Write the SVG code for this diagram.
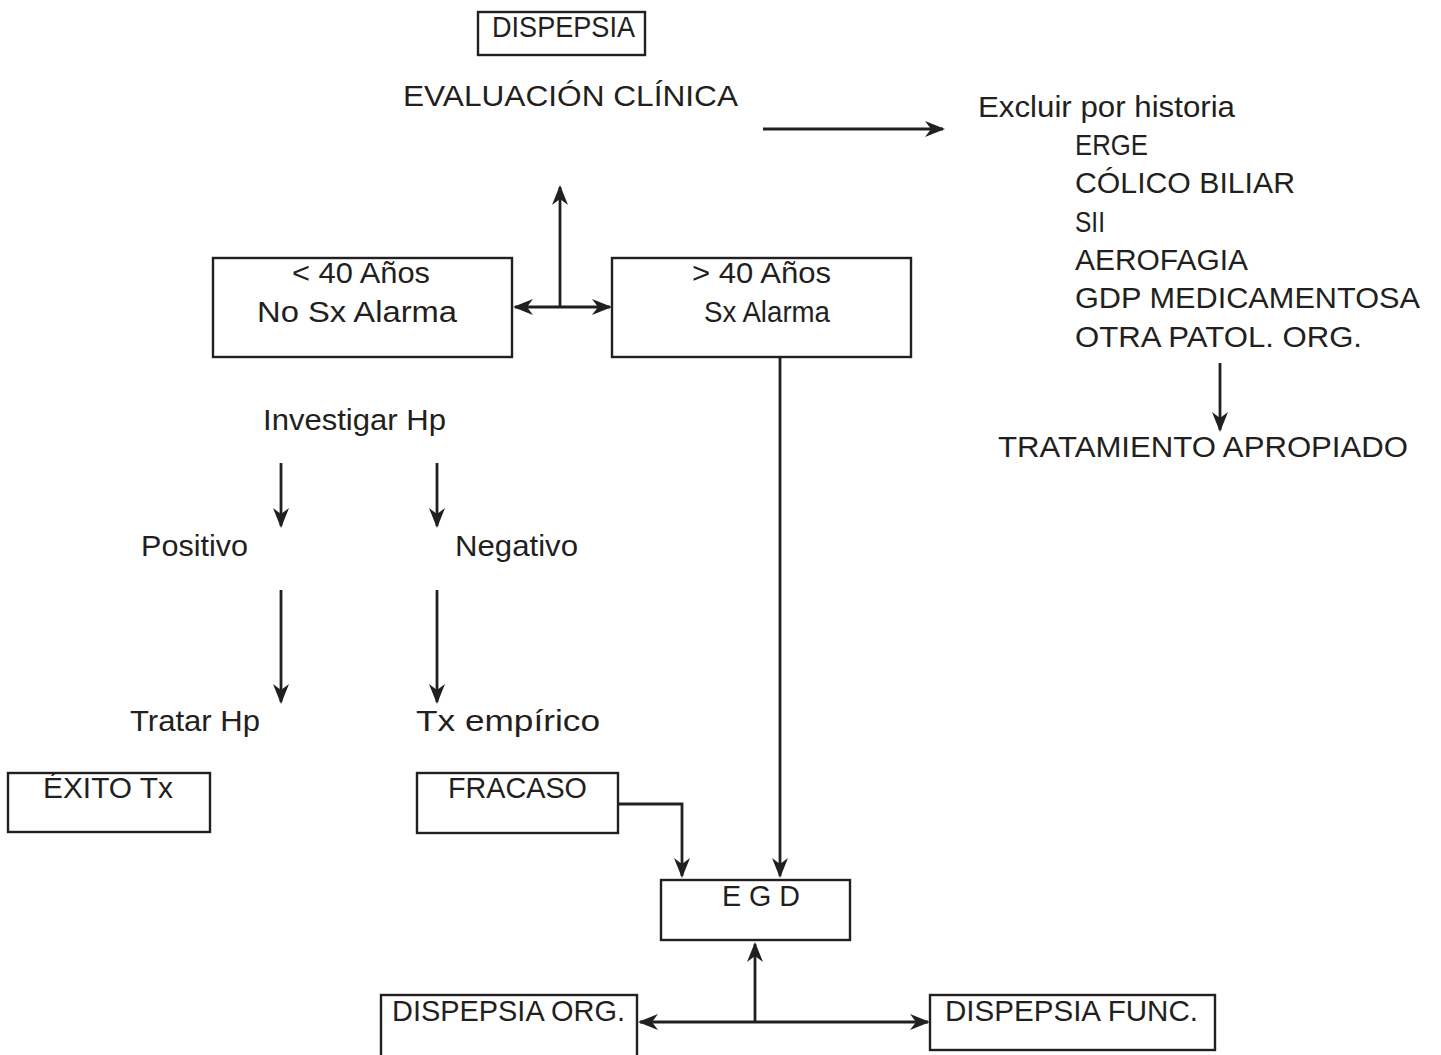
<svg xmlns="http://www.w3.org/2000/svg" width="1441" height="1055" viewBox="0 0 1441 1055">
<style>
.box{fill:#fff;stroke:#231f20;stroke-width:2.4}
.t{font-family:"Liberation Sans",Arial,sans-serif;font-size:30px;fill:#231f20}
.c{stroke:#231f20;stroke-width:2.8;fill:none}
</style>
<defs>
<marker id="ah" viewBox="0 0 20 16" refX="18" refY="8" markerWidth="20" markerHeight="16" markerUnits="userSpaceOnUse" orient="auto-start-reverse">
<path d="M0,0 L20,8 L0,16 L6,8 z" fill="#231f20"/>
</marker>
</defs>
<rect width="1441" height="1055" fill="#fff"/>
<g id="connectors">
<line class="c" x1="763" y1="129" x2="943" y2="129" marker-end="url(#ah)"/>
<line class="c" x1="560" y1="307" x2="560" y2="187" marker-end="url(#ah)"/>
<line class="c" x1="515" y1="307" x2="610" y2="307" marker-start="url(#ah)" marker-end="url(#ah)"/>
<line class="c" x1="1220" y1="363" x2="1220" y2="430" marker-end="url(#ah)"/>
<line class="c" x1="281" y1="463" x2="281" y2="526" marker-end="url(#ah)"/>
<line class="c" x1="437" y1="463" x2="437" y2="526" marker-end="url(#ah)"/>
<line class="c" x1="281" y1="590" x2="281" y2="702" marker-end="url(#ah)"/>
<line class="c" x1="437" y1="590" x2="437" y2="702" marker-end="url(#ah)"/>
<line class="c" x1="780" y1="357" x2="780" y2="876" marker-end="url(#ah)"/>
<polyline class="c" points="618,804 682,804 682,876" marker-end="url(#ah)"/>
<line class="c" x1="755" y1="1022" x2="755" y2="944" marker-end="url(#ah)"/>
<line class="c" x1="640" y1="1022" x2="928" y2="1022" marker-start="url(#ah)" marker-end="url(#ah)"/>
</g>
<g id="dispepsia">
<rect class="box" x="478" y="12" width="167" height="43"/>
<text class="t" x="492" y="37" textLength="143" lengthAdjust="spacingAndGlyphs">DISPEPSIA</text>
</g>
<g id="evaluacion">
<text class="t" x="403" y="106" textLength="335" lengthAdjust="spacingAndGlyphs">EVALUACIÓN CLÍNICA</text>
</g>
<g id="excluir">
<text class="t" x="978" y="117" textLength="257" lengthAdjust="spacingAndGlyphs">Excluir por historia</text>
<text class="t" x="1075" y="155" textLength="73" lengthAdjust="spacingAndGlyphs">ERGE</text>
<text class="t" x="1075" y="193" textLength="220" lengthAdjust="spacingAndGlyphs">CÓLICO BILIAR</text>
<text class="t" x="1075" y="232" textLength="30" lengthAdjust="spacingAndGlyphs">SII</text>
<text class="t" x="1075" y="270" textLength="173" lengthAdjust="spacingAndGlyphs">AEROFAGIA</text>
<text class="t" x="1075" y="308" textLength="345" lengthAdjust="spacingAndGlyphs">GDP MEDICAMENTOSA</text>
<text class="t" x="1075" y="347" textLength="287" lengthAdjust="spacingAndGlyphs">OTRA PATOL. ORG.</text>
</g>
<g id="tratamiento">
<text class="t" x="998" y="457" textLength="410" lengthAdjust="spacingAndGlyphs">TRATAMIENTO APROPIADO</text>
</g>
<g id="menor40">
<rect class="box" x="213" y="258" width="299" height="99"/>
<text class="t" x="292" y="283" textLength="138" lengthAdjust="spacingAndGlyphs">&lt; 40 Años</text>
<text class="t" x="257" y="322" textLength="200" lengthAdjust="spacingAndGlyphs">No Sx Alarma</text>
</g>
<g id="mayor40">
<rect class="box" x="612" y="258" width="299" height="99"/>
<text class="t" x="692" y="283" textLength="139" lengthAdjust="spacingAndGlyphs">&gt; 40 Años</text>
<text class="t" x="704" y="322" textLength="126" lengthAdjust="spacingAndGlyphs">Sx Alarma</text>
</g>
<g id="investigar">
<text class="t" x="263" y="430" textLength="183" lengthAdjust="spacingAndGlyphs">Investigar Hp</text>
</g>
<g id="positivo">
<text class="t" x="141" y="556" textLength="107" lengthAdjust="spacingAndGlyphs">Positivo</text>
</g>
<g id="negativo">
<text class="t" x="455" y="556" textLength="123" lengthAdjust="spacingAndGlyphs">Negativo</text>
</g>
<g id="tratar">
<text class="t" x="130" y="731" textLength="130" lengthAdjust="spacingAndGlyphs">Tratar Hp</text>
</g>
<g id="txempirico">
<text class="t" x="416" y="731" textLength="184" lengthAdjust="spacingAndGlyphs">Tx empírico</text>
</g>
<g id="exito">
<rect class="box" x="8" y="773" width="202" height="59"/>
<text class="t" x="43" y="798" textLength="130" lengthAdjust="spacingAndGlyphs">ÉXITO Tx</text>
</g>
<g id="fracaso">
<rect class="box" x="417" y="773" width="201" height="60"/>
<text class="t" x="448" y="798" textLength="139" lengthAdjust="spacingAndGlyphs">FRACASO</text>
</g>
<g id="egd">
<rect class="box" x="661" y="880" width="189" height="60"/>
<text class="t" x="722" y="906" textLength="78" lengthAdjust="spacingAndGlyphs">E G D</text>
</g>
<g id="org">
<rect class="box" x="381" y="995" width="256" height="75"/>
<text class="t" x="392" y="1021" textLength="233" lengthAdjust="spacingAndGlyphs">DISPEPSIA ORG.</text>
</g>
<g id="func">
<rect class="box" x="930" y="995" width="285" height="55"/>
<text class="t" x="945" y="1021" textLength="253" lengthAdjust="spacingAndGlyphs">DISPEPSIA FUNC.</text>
</g>
</svg>
